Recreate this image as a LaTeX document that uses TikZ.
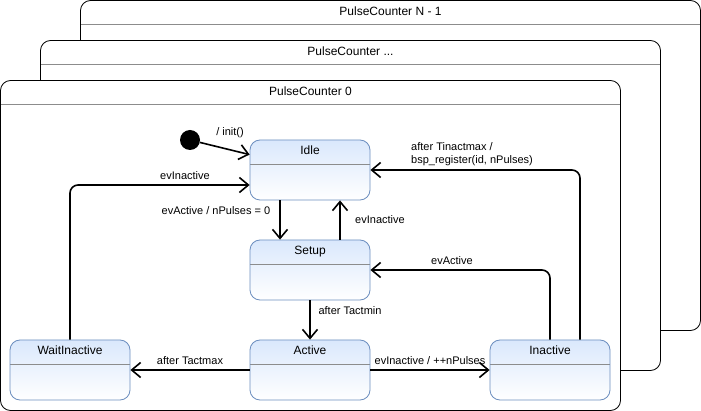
\documentclass[tikz,border=0pt]{standalone}
\usepackage{fontspec}
\setmainfont{Liberation Sans}
\usetikzlibrary{arrows.meta}
\usetikzlibrary{positioning}

\definecolor{stateFill}{HTML}{DAE8FC}
\definecolor{stateLine}{HTML}{6C8EBF}

\tikzset{
  hsep/.style={path picture={\draw[black!45] ([yshift=-24pt]path picture bounding box.north west)
    -- ([yshift=-24pt]path picture bounding box.north east);}},
  frame/.style={draw=black, fill=white, rounded corners=10pt, line width=0.8pt,
    minimum width=620pt, inner sep=0pt, text height=15pt, text depth=315pt,
    font=\fontsize{12}{14}\selectfont, hsep},
  state/.style={draw=stateLine, top color=stateFill, bottom color=white, line width=0.8pt,
    rounded corners=10pt, minimum width=120pt, inner sep=0pt, text height=15pt,
    text depth=45pt, font=\fontsize{12}{14}\selectfont, hsep},
  trans/.style={->, line width=1.6pt, rounded corners=8pt},
  lbl/.style={font=\fontsize{11}{13}\selectfont, inner sep=1pt},
}

\begin{document}
\begin{tikzpicture}[%
  >={Straight Barb[length=9pt,width=15pt]},
  x=1pt, y=-1pt,
]

  \useasboundingbox (0,0) rectangle (701,411);

  % stacked instances
  \node[frame] (pcN) at (390.5,165.5) {PulseCounter N - 1};
  \node[frame] (pcX) at (350.5,205.5) {PulseCounter ...};
  \node[frame] (pc0) at (310.5,245.5) {PulseCounter 0};

  \node[circle, fill=black, inner sep=0pt, minimum size=20pt] (init) at (190,140) {};

  \node[state] (idle) at (310,170) {Idle};
  \node[state] (setup) at (310,270) {Setup};
  \node[state] (active) at (310,370) {Active};
  \node[state] (wait) at (70,370) {WaitInactive};
  \node[state] (inactive) at (550,370) {Inactive};

  \draw[trans] (init) -- ([yshift=-15pt]idle.north west);
  \draw[trans] (wait.north) |- ([yshift=-15pt]idle.west);
  \draw[trans] ([xshift=-30pt]idle.south) -- ([xshift=-30pt]setup.north);
  \draw[trans] ([xshift=30pt]setup.north) -- ([xshift=30pt]idle.south);
  \draw[trans] ([xshift=30pt]inactive.north) |- (idle.east);
  \draw[trans] (inactive.north) |- (setup.east);
  \draw[trans] (setup.south) -- (active.north);
  \draw[trans] (active.west) -- (wait.east);
  \draw[trans] (active.east) -- (inactive.west);

  \node[lbl] (tInit) at (230,133) {/ init()};
  \node[lbl] (tWait) at (185,176) {evInactive};
  \node[lbl] (tIdleSetup) at (216,211) {evActive / nPulses = 0};
  \node[lbl] (tSetupIdle) at (380,220) {evInactive};
  \node[lbl, anchor=west, align=left] (tInactIdle) at (410,154)
    {after Tinactmax /\\bsp\_register(id, nPulses)};
  \node[lbl] (tInactSetup) at (452,261) {evActive};
  \node[lbl] (tSetupAct) at (350,311) {after Tactmin};
  \node[lbl] (tActWait) at (190,361) {after Tactmax};
  \node[lbl] (tActInact) at (430,361) {evInactive / ++nPulses};

\end{tikzpicture}
\end{document}
